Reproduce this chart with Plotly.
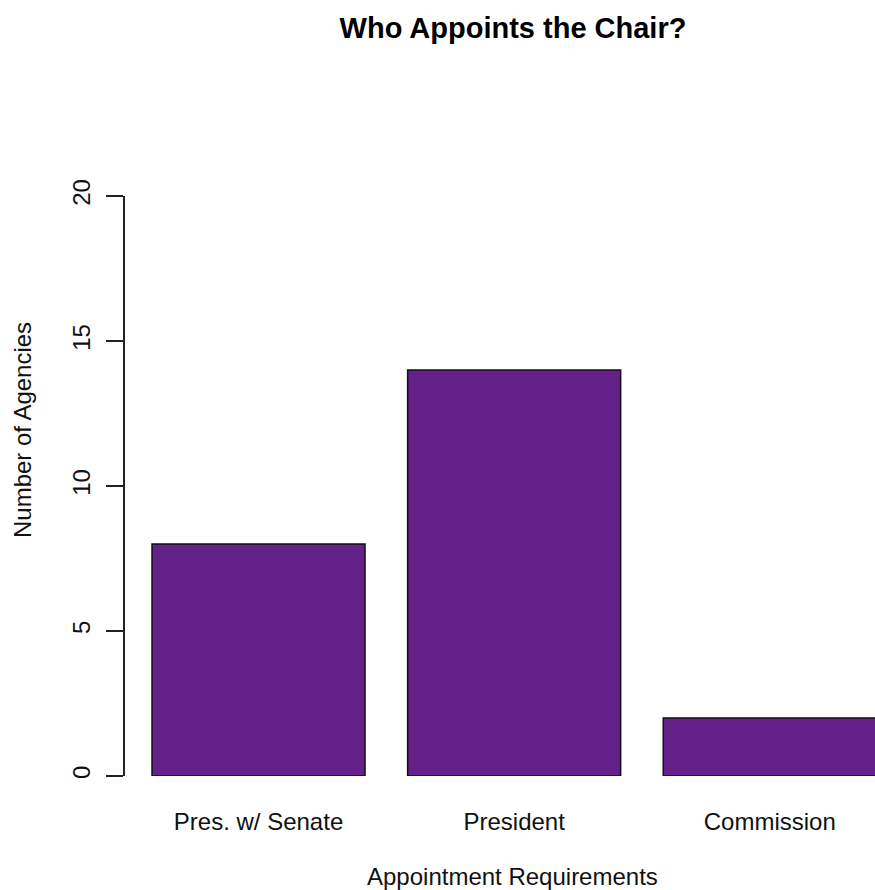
import plotly.graph_objects as go

categories = ["Pres. w/ Senate", "President", "Commission"]
counts = [8, 14, 2]
y_ticks = [0, 5, 10, 15, 20]

# R barplot positions: width 1, space 0.2
bar_centers = [0.7, 1.9, 3.1]

FONT = "Liberation Sans, Arial, sans-serif"
W, H = 875, 890
L, R, T, B = 125, 0, 196, 114
pw, ph = W - L - R, H - T - B

fig = go.Figure(go.Bar(
    x=bar_centers, y=counts, width=1.0,
    marker=dict(color="#65218A", line=dict(color="#111111", width=1.5)),
    hoverinfo="skip",
))

fig.update_layout(
    width=W, height=H,
    margin=dict(l=L, r=R, t=T, b=B, pad=0),
    plot_bgcolor="white", paper_bgcolor="white",
    font=dict(family=FONT, size=24, color="#111111"),
    showlegend=False,
    title=dict(text="<b>Who Appoints the Chair?</b>", x=513 / W, y=1 - 28 / H,
               xref="container", yref="container", xanchor="center", yanchor="middle",
               font=dict(family=FONT, size=29, color="#000000")),
    xaxis=dict(range=[0.0732, 3.594], tickvals=bar_centers, ticktext=categories,
               showline=False, showgrid=False, zeroline=False, ticks="",
               ticklabelstandoff=29, tickfont=dict(size=24)),
    yaxis=dict(range=[0, 20], tickvals=y_ticks, ticktext=[str(v) for v in y_ticks],
               showline=True, linecolor="#222222", linewidth=1.5,
               ticks="outside", ticklen=17, tickwidth=1.5, tickcolor="#222222",
               tickangle=-90, showgrid=False, zeroline=False,
               ticklabelstandoff=7, tickfont=dict(size=24)),
    annotations=[
        dict(text="Appointment Requirements", x=(512 - L) / pw, y=(H - B - 876) / ph,
             xref="paper", yref="paper", xanchor="center", yanchor="middle",
             showarrow=False, font=dict(size=24)),
        dict(text="Number of Agencies", x=(22 - L) / pw, y=(H - B - 430) / ph,
             xref="paper", yref="paper", xanchor="center", yanchor="middle",
             textangle=-90, showarrow=False, font=dict(size=24)),
    ],
)

fig.write_html(
    "out.html",
    config={"displayModeBar": False},
    post_script="document.body.style.margin='0';document.body.style.overflow='hidden';",
)
